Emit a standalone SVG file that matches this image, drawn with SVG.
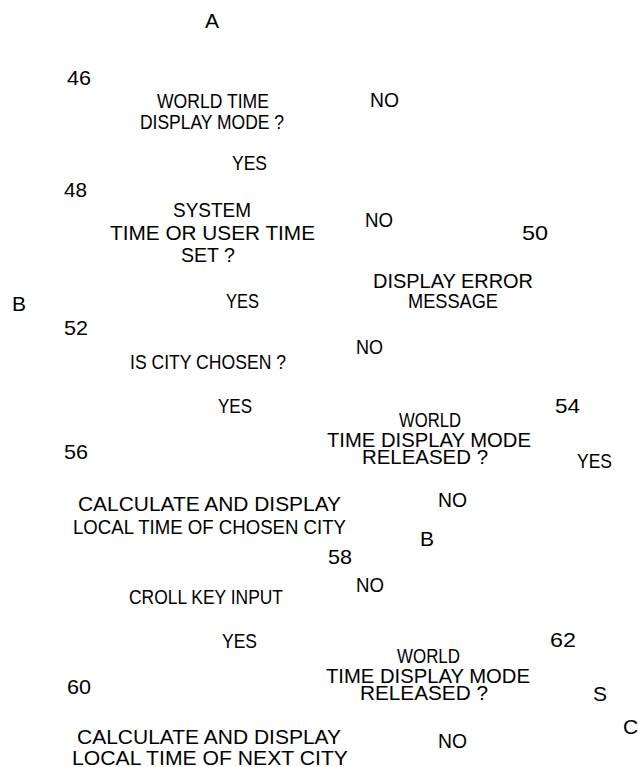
<svg xmlns="http://www.w3.org/2000/svg" width="638" height="767" viewBox="0 0 638 767">
<style>
text{font-family:"Liberation Sans Narrow","Liberation Sans",Arial,sans-serif;font-size:21px;fill:#000}
</style>
<rect width="638" height="767" fill="#fff"/>
<g id="connector-A"><text x="205" y="28">A</text></g>
<g id="step46">
<text x="67" y="85" textLength="24" lengthAdjust="spacingAndGlyphs">46</text>
<text x="157" y="108" textLength="112" lengthAdjust="spacingAndGlyphs">WORLD TIME</text>
<text x="140" y="129" textLength="144" lengthAdjust="spacingAndGlyphs">DISPLAY MODE ?</text>
</g>
<g id="step48">
<text x="64" y="197" textLength="23" lengthAdjust="spacingAndGlyphs">48</text>
<text x="173" y="217" textLength="78" lengthAdjust="spacingAndGlyphs">SYSTEM</text>
<text x="110" y="240" textLength="205" lengthAdjust="spacingAndGlyphs">TIME OR USER TIME</text>
<text x="181" y="262" textLength="54" lengthAdjust="spacingAndGlyphs">SET ?</text>
</g>
<g id="step50">
<text x="522" y="240" textLength="26" lengthAdjust="spacingAndGlyphs">50</text>
<text x="373" y="288" textLength="160" lengthAdjust="spacingAndGlyphs">DISPLAY ERROR</text>
<text x="408" y="308" textLength="90" lengthAdjust="spacingAndGlyphs">MESSAGE</text>
</g>
<g id="connector-B1"><text x="12" y="311">B</text></g>
<g id="step52">
<text x="64" y="335" textLength="24" lengthAdjust="spacingAndGlyphs">52</text>
<text x="130" y="369" textLength="156" lengthAdjust="spacingAndGlyphs">IS CITY CHOSEN ?</text>
</g>
<g id="step54">
<text x="555" y="413" textLength="25" lengthAdjust="spacingAndGlyphs">54</text>
<text x="399" y="427" textLength="62" lengthAdjust="spacingAndGlyphs">WORLD</text>
<text x="327" y="447" textLength="204" lengthAdjust="spacingAndGlyphs">TIME DISPLAY MODE</text>
<text x="362" y="464" textLength="126" lengthAdjust="spacingAndGlyphs">RELEASED ?</text>
</g>
<g id="step56">
<text x="64" y="459" textLength="24" lengthAdjust="spacingAndGlyphs">56</text>
<text x="78" y="511" textLength="263" lengthAdjust="spacingAndGlyphs">CALCULATE AND DISPLAY</text>
<text x="73" y="534" textLength="273" lengthAdjust="spacingAndGlyphs">LOCAL TIME OF CHOSEN CITY</text>
</g>
<g id="connector-B2"><text x="420" y="546">B</text></g>
<g id="step58">
<text x="328" y="564" textLength="24" lengthAdjust="spacingAndGlyphs">58</text>
<text x="129" y="604" textLength="154" lengthAdjust="spacingAndGlyphs">CROLL KEY INPUT</text>
</g>
<g id="step62">
<text x="550" y="647" textLength="26" lengthAdjust="spacingAndGlyphs">62</text>
<text x="397" y="663" textLength="63" lengthAdjust="spacingAndGlyphs">WORLD</text>
<text x="326" y="683" textLength="204" lengthAdjust="spacingAndGlyphs">TIME DISPLAY MODE</text>
<text x="360" y="700" textLength="128" lengthAdjust="spacingAndGlyphs">RELEASED ?</text>
</g>
<g id="step60">
<text x="67" y="694" textLength="24" lengthAdjust="spacingAndGlyphs">60</text>
<text x="77" y="744" textLength="264" lengthAdjust="spacingAndGlyphs">CALCULATE AND DISPLAY</text>
<text x="72" y="765" textLength="276" lengthAdjust="spacingAndGlyphs">LOCAL TIME OF NEXT CITY</text>
</g>
<g id="connector-S"><text x="593" y="701">S</text></g>
<g id="connector-C"><text x="623" y="734">C</text></g>
<g id="connectors">
<text x="370" y="107" textLength="29" lengthAdjust="spacingAndGlyphs">NO</text>
<text x="232" y="170" textLength="35" lengthAdjust="spacingAndGlyphs">YES</text>
<text x="365" y="227" textLength="28" lengthAdjust="spacingAndGlyphs">NO</text>
<text x="226" y="308" textLength="33" lengthAdjust="spacingAndGlyphs">YES</text>
<text x="356" y="354" textLength="27" lengthAdjust="spacingAndGlyphs">NO</text>
<text x="218" y="413" textLength="34" lengthAdjust="spacingAndGlyphs">YES</text>
<text x="577" y="468" textLength="35" lengthAdjust="spacingAndGlyphs">YES</text>
<text x="438" y="507" textLength="29" lengthAdjust="spacingAndGlyphs">NO</text>
<text x="356" y="592" textLength="28" lengthAdjust="spacingAndGlyphs">NO</text>
<text x="222" y="648" textLength="35" lengthAdjust="spacingAndGlyphs">YES</text>
<text x="438" y="748" textLength="29" lengthAdjust="spacingAndGlyphs">NO</text>
</g>
</svg>
